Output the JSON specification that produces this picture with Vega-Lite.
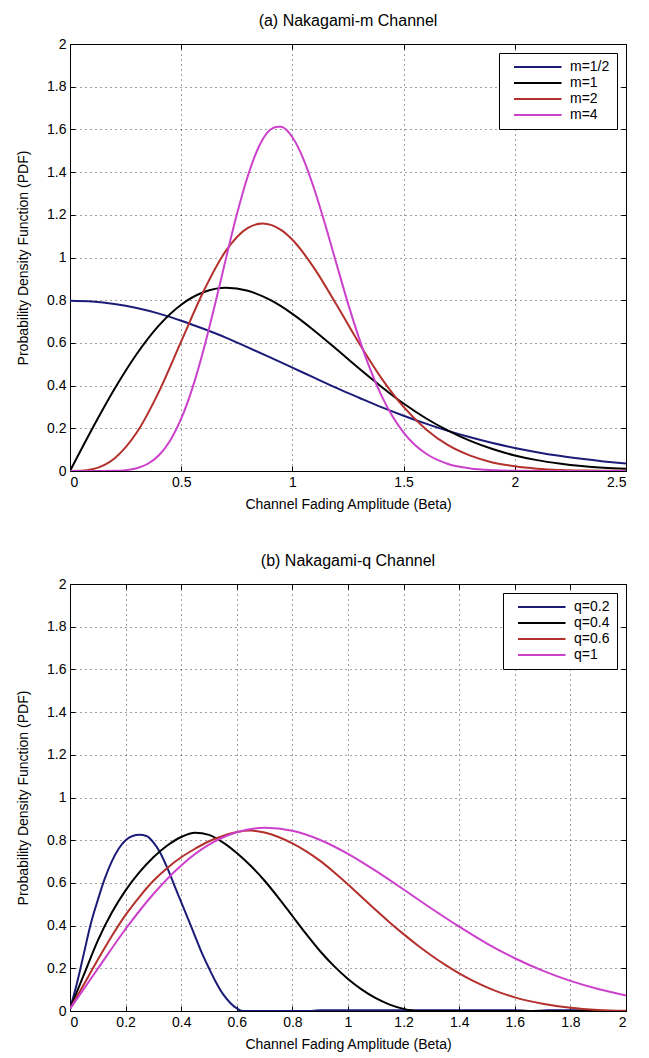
{
  "$schema": "https://vega.github.io/schema/vega-lite/v6.json",
  "padding": {"left": 16, "top": 12, "right": 5, "bottom": 5},
  "spacing": 40,
  "datasets": {
    "mchan": [
      {"curve":"m=1/2","beta":0,"pdf":0.798},{"curve":"m=1/2","beta":0.1,"pdf":0.794},{"curve":"m=1/2","beta":0.2,"pdf":0.782},{"curve":"m=1/2","beta":0.3,"pdf":0.763},{"curve":"m=1/2","beta":0.4,"pdf":0.737},{"curve":"m=1/2","beta":0.5,"pdf":0.704},{"curve":"m=1/2","beta":0.6,"pdf":0.666},{"curve":"m=1/2","beta":0.7,"pdf":0.625},{"curve":"m=1/2","beta":0.8,"pdf":0.579},{"curve":"m=1/2","beta":0.9,"pdf":0.532},{"curve":"m=1/2","beta":1.0,"pdf":0.484},{"curve":"m=1/2","beta":1.1,"pdf":0.436},{"curve":"m=1/2","beta":1.2,"pdf":0.388},{"curve":"m=1/2","beta":1.3,"pdf":0.343},{"curve":"m=1/2","beta":1.4,"pdf":0.299},{"curve":"m=1/2","beta":1.5,"pdf":0.259},{"curve":"m=1/2","beta":1.6,"pdf":0.222},{"curve":"m=1/2","beta":1.7,"pdf":0.188},{"curve":"m=1/2","beta":1.8,"pdf":0.158},{"curve":"m=1/2","beta":1.9,"pdf":0.131},{"curve":"m=1/2","beta":2.0,"pdf":0.108},{"curve":"m=1/2","beta":2.1,"pdf":0.088},{"curve":"m=1/2","beta":2.2,"pdf":0.071},{"curve":"m=1/2","beta":2.3,"pdf":0.057},{"curve":"m=1/2","beta":2.4,"pdf":0.045},{"curve":"m=1/2","beta":2.5,"pdf":0.035},
      {"curve":"m=1","beta":0,"pdf":0},{"curve":"m=1","beta":0.1,"pdf":0.198},{"curve":"m=1","beta":0.2,"pdf":0.384},{"curve":"m=1","beta":0.3,"pdf":0.548},{"curve":"m=1","beta":0.4,"pdf":0.682},{"curve":"m=1","beta":0.5,"pdf":0.779},{"curve":"m=1","beta":0.6,"pdf":0.837},{"curve":"m=1","beta":0.7,"pdf":0.858},{"curve":"m=1","beta":0.8,"pdf":0.844},{"curve":"m=1","beta":0.9,"pdf":0.801},{"curve":"m=1","beta":1.0,"pdf":0.736},{"curve":"m=1","beta":1.1,"pdf":0.656},{"curve":"m=1","beta":1.2,"pdf":0.569},{"curve":"m=1","beta":1.3,"pdf":0.48},{"curve":"m=1","beta":1.4,"pdf":0.395},{"curve":"m=1","beta":1.5,"pdf":0.316},{"curve":"m=1","beta":1.6,"pdf":0.247},{"curve":"m=1","beta":1.7,"pdf":0.189},{"curve":"m=1","beta":1.8,"pdf":0.141},{"curve":"m=1","beta":1.9,"pdf":0.103},{"curve":"m=1","beta":2.0,"pdf":0.073},{"curve":"m=1","beta":2.1,"pdf":0.051},{"curve":"m=1","beta":2.2,"pdf":0.035},{"curve":"m=1","beta":2.3,"pdf":0.023},{"curve":"m=1","beta":2.4,"pdf":0.015},{"curve":"m=1","beta":2.5,"pdf":0.01},
      {"curve":"m=2","beta":0,"pdf":0},{"curve":"m=2","beta":0.05,"pdf":0.001},{"curve":"m=2","beta":0.1,"pdf":0.008},{"curve":"m=2","beta":0.2,"pdf":0.059},{"curve":"m=2","beta":0.3,"pdf":0.18},{"curve":"m=2","beta":0.4,"pdf":0.372},{"curve":"m=2","beta":0.5,"pdf":0.607},{"curve":"m=2","beta":0.6,"pdf":0.841},{"curve":"m=2","beta":0.7,"pdf":1.03},{"curve":"m=2","beta":0.8,"pdf":1.139},{"curve":"m=2","beta":0.866,"pdf":1.159},{"curve":"m=2","beta":0.95,"pdf":1.128},{"curve":"m=2","beta":1.0,"pdf":1.083},{"curve":"m=2","beta":1.1,"pdf":0.947},{"curve":"m=2","beta":1.2,"pdf":0.776},{"curve":"m=2","beta":1.3,"pdf":0.598},{"curve":"m=2","beta":1.4,"pdf":0.435},{"curve":"m=2","beta":1.5,"pdf":0.3},{"curve":"m=2","beta":1.6,"pdf":0.196},{"curve":"m=2","beta":1.7,"pdf":0.121},{"curve":"m=2","beta":1.8,"pdf":0.072},{"curve":"m=2","beta":1.9,"pdf":0.04},{"curve":"m=2","beta":2.0,"pdf":0.022},{"curve":"m=2","beta":2.1,"pdf":0.011},{"curve":"m=2","beta":2.2,"pdf":0.005},{"curve":"m=2","beta":2.3,"pdf":0.0025},{"curve":"m=2","beta":2.4,"pdf":0.001},{"curve":"m=2","beta":2.5,"pdf":0.0004},
      {"curve":"m=4","beta":0,"pdf":0},{"curve":"m=4","beta":0.1,"pdf":0},{"curve":"m=4","beta":0.2,"pdf":0.001},{"curve":"m=4","beta":0.25,"pdf":0.004},{"curve":"m=4","beta":0.3,"pdf":0.013},{"curve":"m=4","beta":0.35,"pdf":0.034},{"curve":"m=4","beta":0.4,"pdf":0.074},{"curve":"m=4","beta":0.45,"pdf":0.142},{"curve":"m=4","beta":0.5,"pdf":0.245},{"curve":"m=4","beta":0.55,"pdf":0.387},{"curve":"m=4","beta":0.6,"pdf":0.566},{"curve":"m=4","beta":0.65,"pdf":0.772},{"curve":"m=4","beta":0.7,"pdf":0.99},{"curve":"m=4","beta":0.75,"pdf":1.201},{"curve":"m=4","beta":0.8,"pdf":1.383},{"curve":"m=4","beta":0.85,"pdf":1.521},{"curve":"m=4","beta":0.9,"pdf":1.598},{"curve":"m=4","beta":0.935,"pdf":1.613},{"curve":"m=4","beta":0.95,"pdf":1.612},{"curve":"m=4","beta":1.0,"pdf":1.563},{"curve":"m=4","beta":1.05,"pdf":1.46},{"curve":"m=4","beta":1.1,"pdf":1.315},{"curve":"m=4","beta":1.15,"pdf":1.145},{"curve":"m=4","beta":1.2,"pdf":0.964},{"curve":"m=4","beta":1.25,"pdf":0.785},{"curve":"m=4","beta":1.3,"pdf":0.621},{"curve":"m=4","beta":1.35,"pdf":0.476},{"curve":"m=4","beta":1.4,"pdf":0.354},{"curve":"m=4","beta":1.45,"pdf":0.256},{"curve":"m=4","beta":1.5,"pdf":0.18},{"curve":"m=4","beta":1.55,"pdf":0.123},{"curve":"m=4","beta":1.6,"pdf":0.082},{"curve":"m=4","beta":1.7,"pdf":0.033},{"curve":"m=4","beta":1.8,"pdf":0.012},{"curve":"m=4","beta":1.9,"pdf":0.004},{"curve":"m=4","beta":2.0,"pdf":0.001},{"curve":"m=4","beta":2.2,"pdf":0},{"curve":"m=4","beta":2.5,"pdf":0}
    ],
    "qchan": [
      {"curve":"q=0.2","beta":0,"pdf":0.01},{"curve":"q=0.2","beta":0.025,"pdf":0.13},{"curve":"q=0.2","beta":0.05,"pdf":0.27},{"curve":"q=0.2","beta":0.075,"pdf":0.41},{"curve":"q=0.2","beta":0.1,"pdf":0.52},{"curve":"q=0.2","beta":0.125,"pdf":0.62},{"curve":"q=0.2","beta":0.15,"pdf":0.7},{"curve":"q=0.2","beta":0.175,"pdf":0.76},{"curve":"q=0.2","beta":0.2,"pdf":0.8},{"curve":"q=0.2","beta":0.225,"pdf":0.82},{"curve":"q=0.2","beta":0.25,"pdf":0.825},{"curve":"q=0.2","beta":0.275,"pdf":0.82},{"curve":"q=0.2","beta":0.3,"pdf":0.79},{"curve":"q=0.2","beta":0.325,"pdf":0.74},{"curve":"q=0.2","beta":0.35,"pdf":0.67},{"curve":"q=0.2","beta":0.375,"pdf":0.59},{"curve":"q=0.2","beta":0.4,"pdf":0.51},{"curve":"q=0.2","beta":0.425,"pdf":0.43},{"curve":"q=0.2","beta":0.45,"pdf":0.35},{"curve":"q=0.2","beta":0.475,"pdf":0.27},{"curve":"q=0.2","beta":0.5,"pdf":0.2},{"curve":"q=0.2","beta":0.525,"pdf":0.135},{"curve":"q=0.2","beta":0.55,"pdf":0.08},{"curve":"q=0.2","beta":0.575,"pdf":0.04},{"curve":"q=0.2","beta":0.6,"pdf":0.012},{"curve":"q=0.2","beta":0.62,"pdf":0},{"curve":"q=0.2","beta":0.87,"pdf":0},{"curve":"q=0.2","beta":0.9,"pdf":0.004},{"curve":"q=0.2","beta":1.2,"pdf":0.004},{"curve":"q=0.2","beta":1.6,"pdf":0.004},{"curve":"q=0.2","beta":1.65,"pdf":0},{"curve":"q=0.2","beta":1.72,"pdf":0.003},{"curve":"q=0.2","beta":1.85,"pdf":0.003},{"curve":"q=0.2","beta":1.9,"pdf":0},{"curve":"q=0.2","beta":2.0,"pdf":0},
      {"curve":"q=0.4","beta":0,"pdf":0.01},{"curve":"q=0.4","beta":0.05,"pdf":0.17},{"curve":"q=0.4","beta":0.1,"pdf":0.33},{"curve":"q=0.4","beta":0.15,"pdf":0.46},{"curve":"q=0.4","beta":0.2,"pdf":0.565},{"curve":"q=0.4","beta":0.25,"pdf":0.65},{"curve":"q=0.4","beta":0.3,"pdf":0.72},{"curve":"q=0.4","beta":0.35,"pdf":0.775},{"curve":"q=0.4","beta":0.4,"pdf":0.815},{"curve":"q=0.4","beta":0.45,"pdf":0.835},{"curve":"q=0.4","beta":0.5,"pdf":0.825},{"curve":"q=0.4","beta":0.55,"pdf":0.79},{"curve":"q=0.4","beta":0.6,"pdf":0.74},{"curve":"q=0.4","beta":0.65,"pdf":0.68},{"curve":"q=0.4","beta":0.7,"pdf":0.61},{"curve":"q=0.4","beta":0.75,"pdf":0.53},{"curve":"q=0.4","beta":0.8,"pdf":0.445},{"curve":"q=0.4","beta":0.85,"pdf":0.36},{"curve":"q=0.4","beta":0.9,"pdf":0.28},{"curve":"q=0.4","beta":0.95,"pdf":0.21},{"curve":"q=0.4","beta":1.0,"pdf":0.15},{"curve":"q=0.4","beta":1.05,"pdf":0.1},{"curve":"q=0.4","beta":1.1,"pdf":0.06},{"curve":"q=0.4","beta":1.15,"pdf":0.03},{"curve":"q=0.4","beta":1.2,"pdf":0.01},{"curve":"q=0.4","beta":1.25,"pdf":0},{"curve":"q=0.4","beta":2.0,"pdf":0},
      {"curve":"q=0.6","beta":0,"pdf":0.01},{"curve":"q=0.6","beta":0.05,"pdf":0.125},{"curve":"q=0.6","beta":0.1,"pdf":0.24},{"curve":"q=0.6","beta":0.15,"pdf":0.35},{"curve":"q=0.6","beta":0.2,"pdf":0.45},{"curve":"q=0.6","beta":0.25,"pdf":0.535},{"curve":"q=0.6","beta":0.3,"pdf":0.61},{"curve":"q=0.6","beta":0.35,"pdf":0.67},{"curve":"q=0.6","beta":0.4,"pdf":0.72},{"curve":"q=0.6","beta":0.45,"pdf":0.76},{"curve":"q=0.6","beta":0.5,"pdf":0.795},{"curve":"q=0.6","beta":0.55,"pdf":0.82},{"curve":"q=0.6","beta":0.6,"pdf":0.838},{"curve":"q=0.6","beta":0.65,"pdf":0.845},{"curve":"q=0.6","beta":0.7,"pdf":0.836},{"curve":"q=0.6","beta":0.75,"pdf":0.815},{"curve":"q=0.6","beta":0.8,"pdf":0.785},{"curve":"q=0.6","beta":0.85,"pdf":0.748},{"curve":"q=0.6","beta":0.9,"pdf":0.703},{"curve":"q=0.6","beta":0.95,"pdf":0.65},{"curve":"q=0.6","beta":1.0,"pdf":0.593},{"curve":"q=0.6","beta":1.05,"pdf":0.533},{"curve":"q=0.6","beta":1.1,"pdf":0.473},{"curve":"q=0.6","beta":1.15,"pdf":0.415},{"curve":"q=0.6","beta":1.2,"pdf":0.36},{"curve":"q=0.6","beta":1.25,"pdf":0.308},{"curve":"q=0.6","beta":1.3,"pdf":0.26},{"curve":"q=0.6","beta":1.35,"pdf":0.216},{"curve":"q=0.6","beta":1.4,"pdf":0.176},{"curve":"q=0.6","beta":1.45,"pdf":0.141},{"curve":"q=0.6","beta":1.5,"pdf":0.111},{"curve":"q=0.6","beta":1.55,"pdf":0.085},{"curve":"q=0.6","beta":1.6,"pdf":0.064},{"curve":"q=0.6","beta":1.7,"pdf":0.034},{"curve":"q=0.6","beta":1.8,"pdf":0.015},{"curve":"q=0.6","beta":1.9,"pdf":0.005},{"curve":"q=0.6","beta":2.0,"pdf":0.001},
      {"curve":"q=1","beta":0,"pdf":0.01},{"curve":"q=1","beta":0.1,"pdf":0.198},{"curve":"q=1","beta":0.2,"pdf":0.384},{"curve":"q=1","beta":0.3,"pdf":0.548},{"curve":"q=1","beta":0.4,"pdf":0.682},{"curve":"q=1","beta":0.5,"pdf":0.779},{"curve":"q=1","beta":0.6,"pdf":0.837},{"curve":"q=1","beta":0.7,"pdf":0.858},{"curve":"q=1","beta":0.8,"pdf":0.844},{"curve":"q=1","beta":0.9,"pdf":0.801},{"curve":"q=1","beta":1.0,"pdf":0.736},{"curve":"q=1","beta":1.1,"pdf":0.656},{"curve":"q=1","beta":1.2,"pdf":0.569},{"curve":"q=1","beta":1.3,"pdf":0.48},{"curve":"q=1","beta":1.4,"pdf":0.395},{"curve":"q=1","beta":1.5,"pdf":0.316},{"curve":"q=1","beta":1.6,"pdf":0.247},{"curve":"q=1","beta":1.7,"pdf":0.189},{"curve":"q=1","beta":1.8,"pdf":0.141},{"curve":"q=1","beta":1.9,"pdf":0.103},{"curve":"q=1","beta":2.0,"pdf":0.073}
    ]
  },
  "vconcat": [
    {
      "title": {"text": "(a) Nakagami-m Channel"},
      "width": 556,
      "height": 427,
      "data": {"name": "mchan"},
      "layer": [
        {
          "mark": {"type": "line", "strokeWidth": 2, "interpolate": "monotone", "clip": true},
          "encoding": {
            "x": {"field": "beta", "type": "quantitative", "title": "Channel Fading Amplitude (Beta)",
                  "scale": {"domain": [0, 2.5], "nice": false},
                  "axis": {"values": [0, 0.5, 1, 1.5, 2, 2.5], "format": "~g"}},
            "y": {"field": "pdf", "type": "quantitative", "title": "Probability Density Function (PDF)",
                  "scale": {"domain": [0, 2], "nice": false},
                  "axis": {"values": [0, 0.2, 0.4, 0.6, 0.8, 1, 1.2, 1.4, 1.6, 1.8, 2], "format": "~g"}},
            "color": {"field": "curve", "type": "nominal",
                      "scale": {"domain": ["m=1/2", "m=1", "m=2", "m=4"], "range": ["#1b1b78", "#000000", "#b3302c", "#cc40cc"]},
                      "legend": {"title": null}},
            "order": {"field": "beta", "type": "quantitative"}
          }
        },
        {
          "mark": {"type": "line", "opacity": 0},
          "encoding": {
            "x": {"field": "beta", "type": "quantitative",
                  "axis": {"orient": "top", "values": [0, 0.5, 1, 1.5, 2, 2.5], "labels": false, "title": null, "grid": false, "domain": false}},
            "y": {"field": "pdf", "type": "quantitative",
                  "axis": {"orient": "right", "values": [0, 0.2, 0.4, 0.6, 0.8, 1, 1.2, 1.4, 1.6, 1.8, 2], "labels": false, "title": null, "grid": false, "domain": false}}
          }
        }
      ],
      "resolve": {"axis": {"x": "independent", "y": "independent"}}
    },
    {
      "title": {"text": "(b) Nakagami-q Channel"},
      "width": 556,
      "height": 427,
      "data": {"name": "qchan"},
      "layer": [
        {
          "mark": {"type": "line", "strokeWidth": 2, "interpolate": "monotone", "clip": true},
          "encoding": {
            "x": {"field": "beta", "type": "quantitative", "title": "Channel Fading Amplitude (Beta)",
                  "scale": {"domain": [0, 2], "nice": false},
                  "axis": {"values": [0, 0.2, 0.4, 0.6, 0.8, 1, 1.2, 1.4, 1.6, 1.8, 2], "format": "~g"}},
            "y": {"field": "pdf", "type": "quantitative", "title": "Probability Density Function (PDF)",
                  "scale": {"domain": [0, 2], "nice": false},
                  "axis": {"values": [0, 0.2, 0.4, 0.6, 0.8, 1, 1.2, 1.4, 1.6, 1.8, 2], "format": "~g"}},
            "color": {"field": "curve", "type": "nominal",
                      "scale": {"domain": ["q=0.2", "q=0.4", "q=0.6", "q=1"], "range": ["#1b1b78", "#000000", "#b3302c", "#cc40cc"]},
                      "legend": {"title": null}},
            "order": {"field": "beta", "type": "quantitative"}
          }
        },
        {
          "mark": {"type": "line", "opacity": 0},
          "encoding": {
            "x": {"field": "beta", "type": "quantitative",
                  "axis": {"orient": "top", "values": [0, 0.2, 0.4, 0.6, 0.8, 1, 1.2, 1.4, 1.6, 1.8, 2], "labels": false, "title": null, "grid": false, "domain": false}},
            "y": {"field": "pdf", "type": "quantitative",
                  "axis": {"orient": "right", "values": [0, 0.2, 0.4, 0.6, 0.8, 1, 1.2, 1.4, 1.6, 1.8, 2], "labels": false, "title": null, "grid": false, "domain": false}}
          }
        }
      ],
      "resolve": {"axis": {"x": "independent", "y": "independent"}}
    }
  ],
  "resolve": {"scale": {"color": "independent"}, "legend": {"color": "independent"}},
  "config": {
    "font": "Liberation Sans",
    "background": "white",
    "view": {"stroke": "#000000", "strokeWidth": 1},
    "title": {"fontSize": 16, "fontWeight": "normal", "color": "#000000", "offset": 8},
    "axis": {
      "grid": true, "gridColor": "#000000", "gridDash": [1, 4], "gridOpacity": 0.75, "gridWidth": 1,
      "domainColor": "#000000", "tickColor": "#000000", "tickSize": -5,
      "labelColor": "#000000", "labelFontSize": 14, "labelPadding": 9,
      "titleColor": "#000000", "titleFontSize": 14, "titleFontWeight": "normal", "titlePadding": 8
    },
    "axisY": {"titlePadding": 16},
    "legend": {
      "orient": "top-right", "offset": 9, "strokeColor": "#000000", "fillColor": "#ffffff",
      "padding": 7, "symbolType": "M-1,0H8.5", "symbolSize": 100, "symbolStrokeWidth": 2, "symbolFillColor": "transparent",
      "labelFontSize": 14, "labelColor": "#000000", "rowPadding": 2, "symbolOffset": 6, "labelOffset": 44
    }
  }
}
